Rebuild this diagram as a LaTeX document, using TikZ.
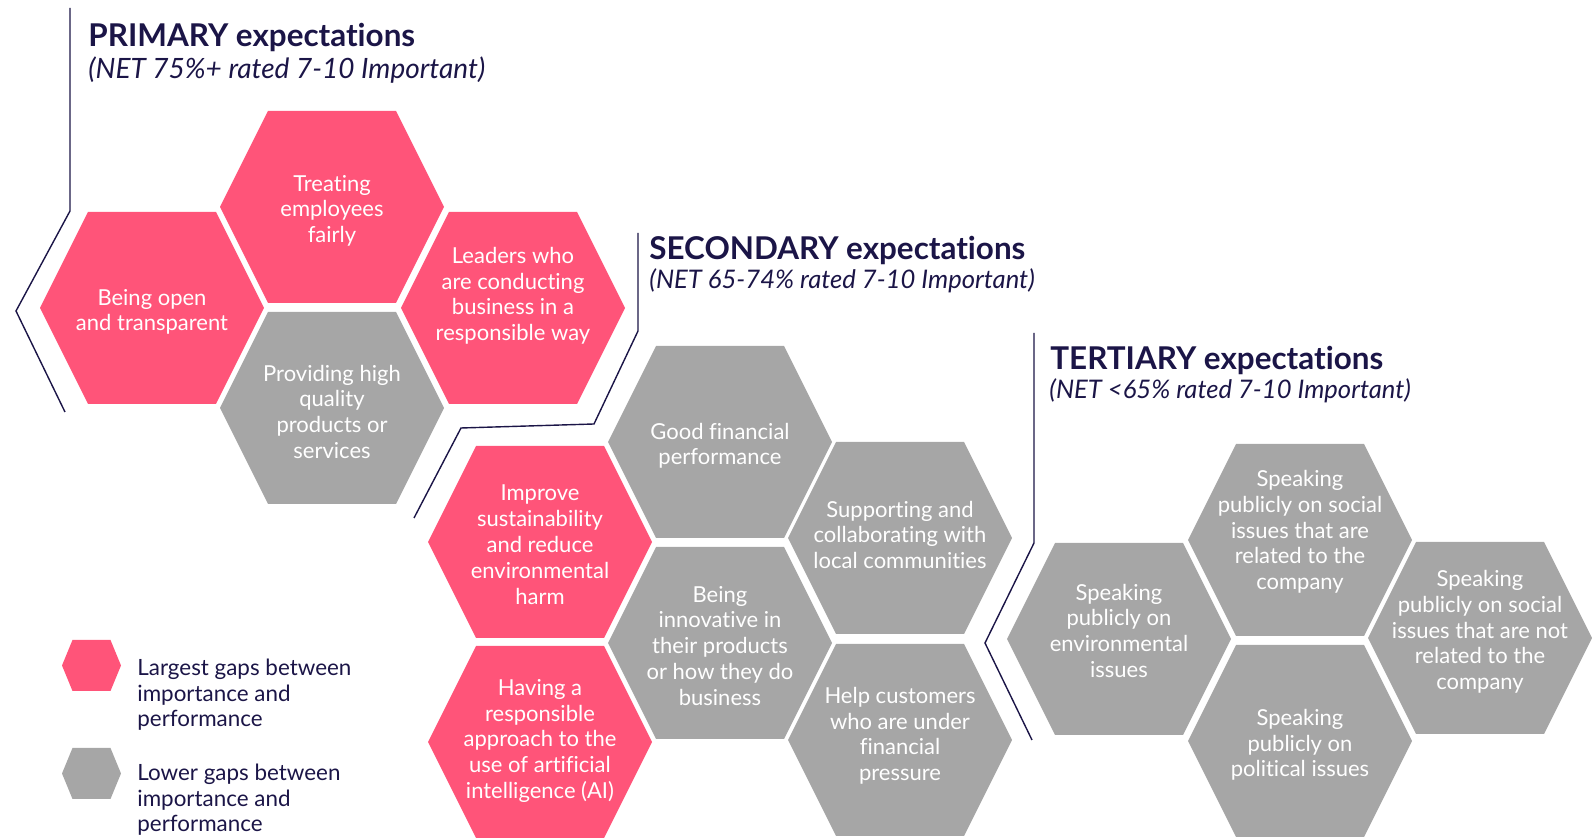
\documentclass[tikz,border=0pt]{standalone}
\usepackage{fontspec}
\setmainfont{Lato}[Ligatures=NoCommon]
\usepackage{xcolor}
\definecolor{gappink}{HTML}{FF5479}
\definecolor{gapgrey}{HTML}{A6A6A6}
\definecolor{inkblue}{HTML}{1B1547}

\tikzset{
  hexagon/.style={insert path={+(-112,0) -- +(-64,-96) -- +(64,-96) -- +(112,0) -- +(64,96) -- +(-64,96) -- cycle}},
  minihex/.style={insert path={+(-29.5,0) -- +(-19,-25.5) -- +(19,-25.5) -- +(29.5,0) -- +(19,25.5) -- +(-19,25.5) -- cycle}},
  celltext/.style={text=white, align=center, yshift=-1.4pt, font=\fontsize{11}{12.9}\selectfont},
  heading/.style={anchor=base west, inner sep=0pt, text=inkblue, font=\bfseries\fontsize{15.7}{18}\selectfont},
  subheading/.style={anchor=base west, inner sep=0pt, text=inkblue, font=\itshape\fontsize{12.8}{15}\selectfont},
  legendtext/.style={anchor=west, inner sep=0pt, yshift=-1.4pt, text=inkblue, align=left, font=\fontsize{11.2}{12.7}\selectfont},
  bracket/.style={draw=inkblue, line width=0.7pt}
}

\begin{document}
\begin{tikzpicture}[x=0.5pt,y=-0.5pt]
\useasboundingbox (0,0) rectangle (1592,838);

% primary
\draw[bracket] (70,8) -- (70,211) -- (16,311) -- (65,412);
\node[heading] (primary) at (88,47) {PRIMARY expectations};
\node[subheading, font=\itshape\fontsize{14}{16}\selectfont] (primarynet) at (88,79) {(NET 75\%+ rated 7-10 Important)};

\fill[gappink] (152,308) [hexagon];
\node[celltext] (open) at (152,309) {Being open\\and transparent};
\fill[gappink] (332,207) [hexagon];
\node[celltext] (fair) at (332,208) {Treating\\employees\\fairly};
\fill[gapgrey] (332,408) [hexagon];
\node[celltext] (quality) at (332,409) {Providing high\\quality\\products or\\services};
\fill[gappink] (513,308) [hexagon];
\node[celltext] (leaders) at (513,293) {Leaders who\\are conducting\\business in a\\responsible way};

% secondary
\draw[bracket] (638,233) -- (638,331) -- (594,424) -- (461,428) -- (414,518);
\node[heading] (secondary) at (649,260) {SECONDARY expectations};
\node[subheading] (secondarynet) at (649,289) {(NET 65-74\% rated 7-10 Important)};

\fill[gapgrey] (720,442) [hexagon];
\node[celltext] (finance) at (720,443) {Good financial\\performance};
\fill[gappink] (540,542) [hexagon];
\node[celltext] (sustain) at (540,542) {Improve\\sustainability\\and reduce\\environmental\\harm};
\fill[gapgrey] (900,538) [hexagon];
\node[celltext] (local) at (900,532) {Supporting and\\collaborating with\\local communities};
\fill[gapgrey] (720,643) [hexagon];
\node[celltext] (innovate) at (720,643) {Being\\innovative in\\their products\\or how they do\\business};
\fill[gappink] (540,742) [hexagon];
\node[celltext] (ai) at (540,738) {Having a\\responsible\\approach to the\\use of artificial\\intelligence (AI)};
\fill[gapgrey] (900,740) [hexagon];
\node[celltext] (customers) at (900,733) {Help customers\\who are under\\financial\\pressure};

% tertiary
\draw[bracket] (1034,333) -- (1034,543) -- (985,643) -- (1032,740);
\node[heading] (tertiary) at (1050,370) {TERTIARY expectations};
\node[subheading] (tertiarynet) at (1049,399) {(NET <65\% rated 7-10 Important)};

\fill[gapgrey] (1119,639) [hexagon];
\node[celltext] (envissues) at (1119,628) {Speaking\\publicly on\\environmental\\issues};
\fill[gapgrey] (1300,540) [hexagon];
\node[celltext] (related) at (1300,529) {Speaking\\publicly on social\\issues that are\\related to the\\company};
\fill[gapgrey] (1480,638) [hexagon];
\node[celltext] (notrelated) at (1480,629) {Speaking\\publicly on social\\issues that are not\\related to the\\company};
\fill[gapgrey] (1300,741) [hexagon];
\node[celltext] (political) at (1300,742) {Speaking\\publicly on\\political issues};

% legend
\fill[gappink] (91.5,665.5) [minihex];
\node[legendtext] (largest) at (137,692) {Largest gaps between\\importance and\\performance};
\fill[gapgrey] (91.5,773.5) [minihex];
\node[legendtext] (lower) at (137,797) {Lower gaps between\\importance and\\performance};
\end{tikzpicture}
\end{document}
